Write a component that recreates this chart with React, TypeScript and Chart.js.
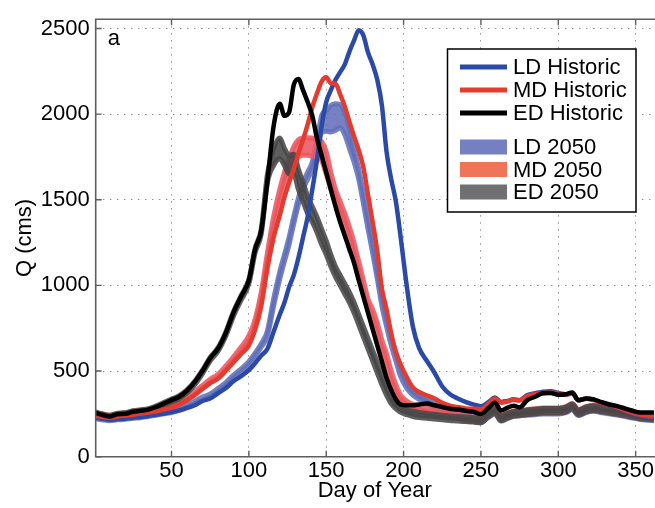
import React, { useEffect, useRef } from "react";
import { Chart, registerables } from "chart.js";

Chart.register(...registerables);

const FONT_FAMILY = "'Liberation Sans', Arial, Helvetica, sans-serif";

// Day of year sample points
const days = [
  1, 5, 10, 15, 20, 25, 30, 35, 40, 45,
  50, 55, 60, 65, 70, 75, 80, 85, 90, 95,
  100, 104, 108, 112, 116, 120, 123, 126, 129, 132,
  135, 138, 141, 144, 147, 150, 153, 156, 159, 162,
  165, 168, 171, 174, 177, 180, 183, 186, 189, 192,
  195, 198, 202, 206, 210, 215, 220, 225, 230, 235,
  240, 245, 250, 255, 259, 263, 267, 271, 275, 280,
  285, 290, 295, 300, 305, 309, 313, 318, 323, 328,
  333, 338, 343, 348, 353, 358, 362,
];

const ldHistoric = [
  228, 222, 215, 220, 222, 228, 232, 238, 245, 252,
  260, 270, 285, 300, 325, 340, 370, 400, 440, 470,
  505, 545, 590, 630, 730, 830, 900, 990, 1060, 1160,
  1280, 1400, 1560, 1730, 1930, 2070, 2140, 2200, 2245, 2290,
  2365, 2430, 2490, 2460, 2360, 2290, 2200, 2050, 1780, 1620,
  1490, 1290, 1000, 760, 635, 560, 490, 410, 365, 340,
  320, 305, 295, 320, 345, 320, 325, 335, 330, 360,
  370, 380, 382, 372, 365, 372, 330, 338, 332, 315,
  300, 285, 268, 252, 240, 232, 228,
];

const mdHistoric = [
  240, 232, 228, 235, 240, 245, 252, 258, 265, 275,
  287, 305, 330, 360, 395, 430, 455, 500, 550, 600,
  650, 740, 880, 1100, 1280, 1410, 1515, 1600, 1680, 1770,
  1850, 1940, 2040, 2120, 2190, 2215, 2180, 2178, 2115, 2045,
  1955, 1870, 1790, 1690, 1530, 1370, 1200, 980, 860, 720,
  610, 540, 465, 405, 378, 358, 340, 315, 298, 290,
  282, 280, 277, 310, 340, 315, 322, 332, 328, 355,
  365, 372, 375, 368, 362, 370, 330, 338, 330, 315,
  302, 288, 272, 256, 244, 238, 235,
];

const edHistoric = [
  255, 245, 235, 248, 250, 262, 268, 275, 290, 310,
  330, 350, 385, 435, 500, 575, 630, 720, 840, 935,
  1030, 1210, 1320, 1610, 1930, 2060, 1990, 2010, 2170, 2205,
  2140, 2070, 1990, 1860, 1760, 1660, 1560, 1460, 1370, 1290,
  1210, 1130, 1030, 935, 840, 745, 650, 555, 460, 390,
  335, 305, 300, 300, 305, 310, 300, 290, 280, 275,
  268, 262, 250, 285, 315, 270, 285, 298, 288, 330,
  350, 370, 372, 362, 365, 375, 330, 340, 335, 318,
  305, 295, 282, 268, 258, 258, 258,
];

const ld2050Low = [
  222, 216, 210, 215, 218, 224, 228, 235, 242, 250,
  258, 270, 286, 305, 330, 348, 380, 415, 458, 495,
  535, 585, 640, 705, 880, 1040, 1140, 1240, 1360, 1470,
  1560, 1620, 1680, 1780, 1890, 1900, 1895, 1905, 1920, 1880,
  1800, 1720, 1620, 1480, 1330, 1190, 1040, 880, 760, 650,
  560, 470, 400, 360, 335, 310, 285, 265, 250, 235,
  222, 212, 205, 230, 250, 208, 222, 234, 238, 243,
  245, 250, 250, 250, 257, 275, 240, 257, 265, 257,
  250, 243, 235, 225, 217, 213, 210,
];
const ld2050High = [
  240, 234, 228, 233, 236, 242, 246, 253, 260, 268,
  276, 288, 304, 323, 348, 366, 398, 433, 476, 513,
  555, 605, 660, 735, 920, 1080, 1180, 1280, 1400, 1510,
  1600, 1660, 1720, 1840, 1990, 2020, 2050, 2060, 2055, 2010,
  1920, 1800, 1680, 1540, 1390, 1250, 1090, 940, 810, 700,
  610, 520, 440, 395, 368, 340, 312, 292, 276, 262,
  248, 238, 230, 256, 276, 234, 248, 260, 264, 269,
  272, 277, 277, 277, 285, 303, 267, 285, 293, 283,
  275, 267, 259, 250, 241, 237, 235,
];

const md2050Low = [
  238, 230, 226, 232, 238, 243, 250, 256, 264, 274,
  287, 305, 330, 362, 398, 432, 460, 508, 560, 615,
  675, 770, 920, 1140, 1340, 1480, 1580, 1660, 1720, 1750,
  1760, 1760, 1755, 1750, 1730, 1650, 1560, 1480, 1420, 1350,
  1270, 1180, 1070, 960, 860, 800, 720, 620, 540, 440,
  370, 320, 290, 275, 265, 255, 245, 238, 232, 228,
  208, 205, 200, 238, 258, 212, 228, 240, 243, 248,
  253, 258, 258, 258, 265, 283, 248, 265, 272, 265,
  257, 250, 242, 232, 224, 220, 217,
];
const md2050High = [
  256, 248, 244, 250, 256, 261, 268, 274, 282, 292,
  305, 323, 348, 380, 416, 452, 480, 528, 582, 640,
  705, 800, 960, 1190, 1400, 1560, 1660, 1740, 1810, 1850,
  1860, 1862, 1860, 1855, 1840, 1780, 1660, 1560, 1490, 1420,
  1340, 1250, 1140, 1030, 920, 860, 780, 680, 600, 500,
  420, 360, 325, 305, 292, 282, 272, 264, 258, 252,
  235, 230, 227, 264, 284, 240, 254, 266, 269, 275,
  280, 285, 285, 285, 292, 310, 275, 292, 300, 290,
  282, 274, 266, 257, 248, 244, 242,
];

const ed2050Low = [
  243, 233, 223, 236, 238, 250, 256, 263, 278, 298,
  318, 338, 372, 420, 485, 560, 615, 703, 820, 915,
  1010, 1190, 1300, 1600, 1700, 1740, 1700, 1650, 1650, 1560,
  1490, 1420, 1370, 1310, 1240, 1180, 1110, 1050, 1000, 950,
  900, 840, 770, 700, 630, 560, 490, 420, 360, 310,
  280, 260, 245, 235, 228, 225, 220, 215, 212, 208,
  205, 202, 198, 235, 255, 210, 225, 238, 240, 245,
  250, 255, 255, 255, 262, 280, 245, 262, 270, 262,
  255, 248, 240, 230, 222, 218, 215,
];
const ed2050High = [
  261, 251, 241, 254, 256, 268, 274, 281, 296, 316,
  336, 356, 390, 440, 505, 580, 635, 725, 845, 940,
  1035, 1215, 1330, 1650, 1800, 1860, 1800, 1760, 1765, 1680,
  1600, 1520, 1460, 1400, 1330, 1260, 1180, 1110, 1060, 1010,
  960, 900, 830, 760, 690, 620, 550, 480, 410, 350,
  320, 295, 275, 265, 258, 252, 248, 242, 238, 234,
  232, 228, 225, 262, 282, 238, 252, 264, 266, 272,
  277, 282, 282, 282, 290, 308, 272, 290, 298, 288,
  280, 272, 264, 255, 246, 242, 240,
];

const xTicks = [50, 100, 150, 200, 250, 300, 350];
const yTicks = [0, 500, 1000, 1500, 2000, 2500];
const seriesNames = ["LD Historic", "MD Historic", "ED Historic", "LD 2050", "MD 2050", "ED 2050"];
const xTitle = "Day of Year";
const yTitle = "Q (cms)";
const panelLabel = "a";

const LD_COLOR = "#2b4aa8";
const MD_COLOR = "#e53a2e";
const ED_COLOR = "#000000";
const LD_BAND = "rgba(98,112,186,0.88)";
const MD_BAND = "rgba(234,88,96,0.88)";
const ED_BAND = "rgba(72,72,72,0.88)";
const LEGEND_SWATCH = ["#7480c0", "#ef7558", "#707073"];

const decorPlugin = {
  id: "decor",
  afterDatasetsDraw(chart: any) {
    const { ctx, chartArea, scales } = chart;
    const { left, right, top, bottom } = chartArea;
    const x = scales.x;
    const y = scales.y;
    ctx.save();
    // axes box (left, top, bottom)
    ctx.strokeStyle = "#5e5e5e";
    ctx.lineWidth = 1.6;
    ctx.beginPath();
    ctx.moveTo(right + 5, top);
    ctx.lineTo(left, top);
    ctx.lineTo(left, bottom);
    ctx.lineTo(right + 5, bottom);
    ctx.stroke();
    // inward tick marks
    ctx.lineWidth = 1.4;
    ctx.beginPath();
    for (const v of xTicks) {
      const px = x.getPixelForValue(v);
      ctx.moveTo(px, bottom);
      ctx.lineTo(px, bottom - 6);
      ctx.moveTo(px, top);
      ctx.lineTo(px, top + 6);
    }
    for (const v of yTicks) {
      const py = y.getPixelForValue(v);
      ctx.moveTo(left, py);
      ctx.lineTo(left + 6, py);
    }
    ctx.stroke();

    // panel label
    ctx.fillStyle = "#000";
    ctx.font = `22px ${FONT_FAMILY}`;
    ctx.textAlign = "left";
    ctx.textBaseline = "alphabetic";
    ctx.fillText(panelLabel, left + 12, top + 26);

    // legend
    const bx = 447.5, by = 49, bw = 188.5, bh = 163;
    ctx.fillStyle = "#ffffff";
    ctx.fillRect(bx, by, bw, bh);
    ctx.strokeStyle = "#000";
    ctx.lineWidth = 1.5;
    ctx.strokeRect(bx, by, bw, bh);
    const rowsY = [67, 90, 113, 147, 169.5, 192];
    const lineColors = [LD_COLOR, MD_COLOR, ED_COLOR];
    ctx.textBaseline = "middle";
    for (let i = 0; i < seriesNames.length; i++) {
      const ry = rowsY[i];
      if (i < 3) {
        ctx.strokeStyle = lineColors[i];
        ctx.lineWidth = 5;
        ctx.beginPath();
        ctx.moveTo(460, ry);
        ctx.lineTo(507, ry);
        ctx.stroke();
      } else {
        ctx.fillStyle = LEGEND_SWATCH[i - 3];
        ctx.fillRect(460, ry - 7.5, 47, 15);
      }
      ctx.fillStyle = "#000";
      ctx.fillText(seriesNames[i], 513, ry + 1);
    }
    ctx.restore();
  },
};

export default function App() {
  const ref = useRef<HTMLCanvasElement>(null);

  useEffect(() => {
    const canvas = ref.current;
    if (!canvas) return;
    const toPts = (ys: number[]) => days.map((d, i) => ({ x: d, y: ys[i] }));
    const lineDs = (label: string, ys: number[], color: string, order: number) => ({
      label,
      data: toPts(ys),
      borderColor: color,
      backgroundColor: color,
      borderWidth: 4.5,
      pointRadius: 0,
      fill: false,
      cubicInterpolationMode: "monotone",
      borderJoinStyle: "round",
      borderCapStyle: "round",
      order,
    });
    const bandDs = (label: string, low: number[], high: number[], color: string, order: number) => [
      {
        label: label + " low",
        data: toPts(low),
        borderColor: color,
        backgroundColor: color,
        borderWidth: 5,
        pointRadius: 0,
        fill: false,
        cubicInterpolationMode: "monotone",
        borderJoinStyle: "round",
        order,
      },
      {
        label,
        data: toPts(high),
        borderColor: color,
        backgroundColor: color,
        borderWidth: 5,
        pointRadius: 0,
        fill: "-1",
        cubicInterpolationMode: "monotone",
        borderJoinStyle: "round",
        order,
      },
    ];

    const datasets: any[] = [
      lineDs(seriesNames[2], edHistoric, ED_COLOR, 0),
      lineDs(seriesNames[1], mdHistoric, MD_COLOR, 1),
      lineDs(seriesNames[0], ldHistoric, LD_COLOR, 2),
      ...bandDs(seriesNames[5], ed2050Low, ed2050High, ED_BAND, 3),
      ...bandDs(seriesNames[4], md2050Low, md2050High, MD_BAND, 4),
      ...bandDs(seriesNames[3], ld2050Low, ld2050High, LD_BAND, 5),
    ];

    const chart = new Chart(canvas, {
      type: "line",
      data: { datasets },
      options: {
        animation: false,
        responsive: false,
        devicePixelRatio: 1,
        layout: { padding: { top: 11.3, right: 0, left: 0, bottom: 0 } },
        plugins: {
          legend: { display: false },
          tooltip: { enabled: false },
        },
        scales: {
          x: {
            type: "linear",
            min: 1,
            max: 361.8,
            afterBuildTicks: (s: any) => {
              s.ticks = xTicks.map((v) => ({ value: v }));
            },
            afterFit: (s: any) => {
              s.height = 51.3;
            },
            border: { display: false, dash: [1.4, 5.6] },
            grid: { color: "#8e8e8e", lineWidth: 1, drawTicks: false },
            ticks: {
              color: "#000",
              padding: 1,
              maxRotation: 0,
              autoSkip: false,
              callback: (v: any) => String(v),
              font: { family: FONT_FAMILY, size: 22 },
            },
            title: {
              display: true,
              text: xTitle,
              color: "#000",
              font: { family: FONT_FAMILY, size: 22 },
              padding: { top: 0, bottom: 4 },
            },
          },
          y: {
            type: "linear",
            min: 0,
            max: 2554,
            afterBuildTicks: (s: any) => {
              s.ticks = yTicks.map((v) => ({ value: v }));
            },
            afterFit: (s: any) => {
              s.width = 95.7;
            },
            border: { display: false, dash: [1.4, 5.6] },
            grid: { color: "#8e8e8e", lineWidth: 1, drawTicks: false },
            ticks: {
              color: "#000",
              padding: 6,
              autoSkip: false,
              callback: (v: any) => String(v),
              font: { family: FONT_FAMILY, size: 22 },
            },
            title: {
              display: true,
              text: yTitle,
              color: "#000",
              font: { family: FONT_FAMILY, size: 22 },
              padding: { top: 12, bottom: 0 },
            },
          },
        },
      } as any,
      plugins: [decorPlugin],
    });

    return () => chart.destroy();
  }, []);

  return (
    <div style={{ position: "absolute", left: 0, top: 0, width: 655, height: 508, overflow: "hidden", background: "#fff" }}>
      <canvas ref={ref} width={655} height={508} style={{ display: "block", width: 655, height: 508 }} />
    </div>
  );
}
